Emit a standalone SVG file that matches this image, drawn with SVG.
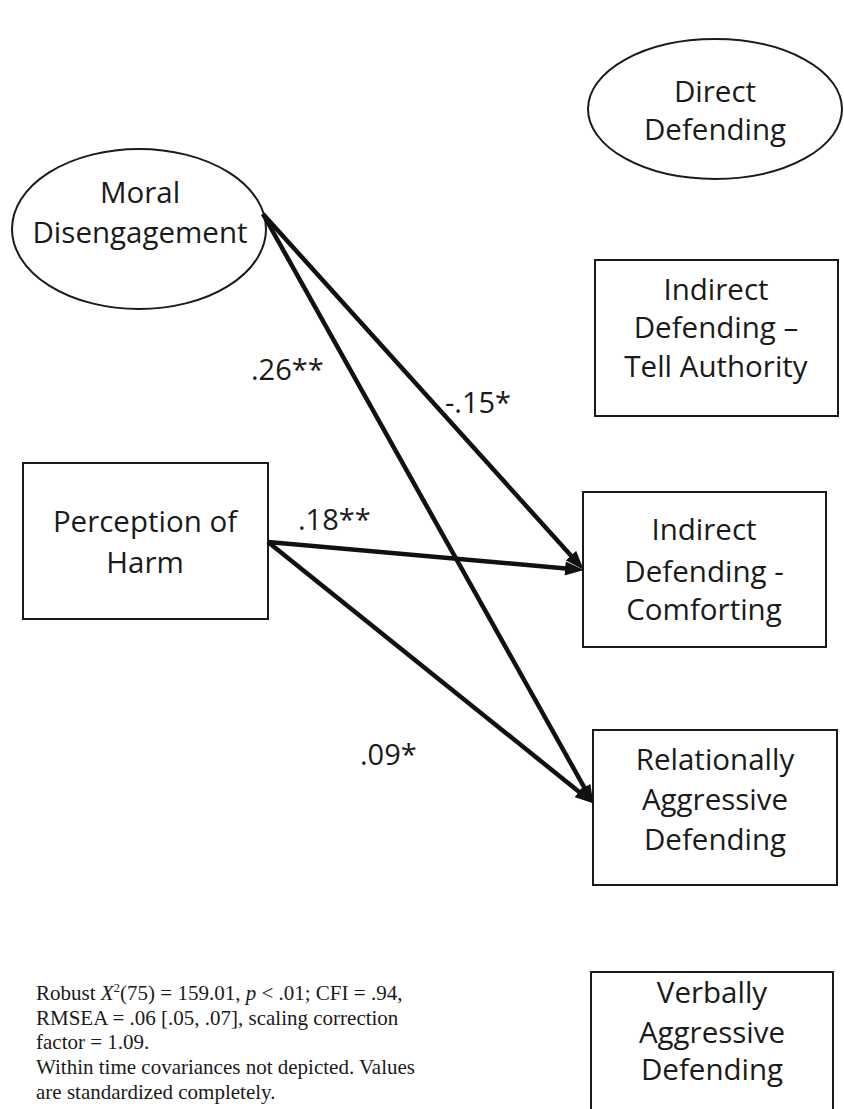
<svg xmlns="http://www.w3.org/2000/svg" width="844" height="1109" viewBox="0 0 844 1109">
<style>
.node{fill:#fff;stroke:#1a1a1a;stroke-width:2}
.lbl{font-family:"Open Sans","Liberation Sans",sans-serif;font-size:29.5px;fill:#1a1a1a;text-anchor:middle}
.coef{font-family:"Open Sans","Liberation Sans",sans-serif;font-size:29px;fill:#1a1a1a}
.edge{stroke:#111;stroke-width:4.5;fill:none}
.note{font-family:"Liberation Serif","Times New Roman",serif;font-size:21px;fill:#1a1a1a}
</style>
<defs>
<marker id="ah" markerUnits="userSpaceOnUse" markerWidth="20" markerHeight="14" refX="12" refY="7" orient="auto">
<path d="M0,0 L19,7 L0,14 z" fill="#111"/>
</marker>
</defs>
<rect width="844" height="1109" fill="#fff"/>
<g id="direct-defending">
<ellipse class="node" cx="715" cy="109" rx="127" ry="70"/>
<text class="lbl" x="715" y="102">Direct</text>
<text class="lbl" x="715" y="140">Defending</text>
</g>
<g id="moral-disengagement">
<ellipse class="node" cx="139" cy="229" rx="127" ry="80"/>
<text class="lbl" x="140" y="203">Moral</text>
<text class="lbl" x="140" y="243">Disengagement</text>
</g>
<g id="tell-authority">
<rect class="node" x="595" y="260" width="243" height="156"/>
<text class="lbl" x="716" y="300">Indirect</text>
<text class="lbl" x="716" y="338">Defending –</text>
<text class="lbl" x="716" y="377">Tell Authority</text>
</g>
<g id="perception-of-harm">
<rect class="node" x="23" y="463" width="245" height="156"/>
<text class="lbl" x="145" y="532">Perception of</text>
<text class="lbl" x="145" y="573">Harm</text>
</g>
<g id="comforting">
<rect class="node" x="583" y="492" width="243" height="155"/>
<text class="lbl" x="704" y="540">Indirect</text>
<text class="lbl" x="704" y="582">Defending -</text>
<text class="lbl" x="704" y="620">Comforting</text>
</g>
<g id="relationally-aggressive">
<rect class="node" x="593" y="730" width="244" height="155"/>
<text class="lbl" x="715" y="770">Relationally</text>
<text class="lbl" x="715" y="810">Aggressive</text>
<text class="lbl" x="715" y="850">Defending</text>
</g>
<g id="verbally-aggressive">
<rect class="node" x="591" y="972" width="242" height="160"/>
<text class="lbl" x="712" y="1003">Verbally</text>
<text class="lbl" x="712" y="1043">Aggressive</text>
<text class="lbl" x="712" y="1080">Defending</text>
</g>
<g id="connectors">
<line class="edge" x1="263" y1="214" x2="579" y2="564.5" marker-end="url(#ah)"/>
<line class="edge" x1="263" y1="214" x2="590.1" y2="797.8" marker-end="url(#ah)"/>
<line class="edge" x1="268" y1="542" x2="577" y2="569.5" marker-end="url(#ah)"/>
<line class="edge" x1="268" y1="542" x2="588.3" y2="799.2" marker-end="url(#ah)"/>
<text class="coef" x="251" y="380">.26**</text>
<text class="coef" x="445" y="413">-.15*</text>
<text class="coef" x="298" y="530">.18**</text>
<text class="coef" x="360" y="765">.09*</text>
</g>
<g id="footnote">
<text class="note" x="36" y="1000">Robust <tspan font-style="italic">X</tspan><tspan font-size="13" dy="-8">2</tspan><tspan dy="8">(75) = 159.01, </tspan><tspan font-style="italic">p</tspan> &lt; .01; CFI = .94,</text>
<text class="note" x="36" y="1025">RMSEA = .06 [.05, .07], scaling correction</text>
<text class="note" x="36" y="1049">factor = 1.09.</text>
<text class="note" x="36" y="1074">Within time covariances not depicted. Values</text>
<text class="note" x="36" y="1099">are standardized completely.</text>
</g>
</svg>
